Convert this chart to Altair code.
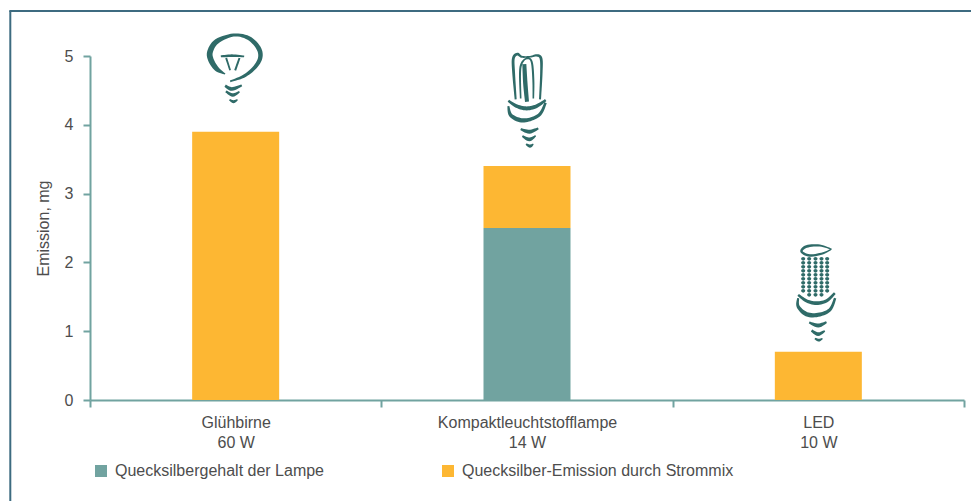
import math
import altair as alt
import pandas as pd

lamps = ["Glühbirne|60 W", "Kompaktleuchtstofflampe|14 W", "LED|10 W"]
series = ["Quecksilbergehalt der Lampe", "Quecksilber-Emission durch Strommix"]
content_values = [0.0, 2.5, 0.0]
power_mix_values = [3.9, 0.9, 0.7]
y_ticks = [0, 1, 2, 3, 4, 5]
TEAL = "#71a3a0"
ORANGE = "#fdb733"
DARK = "#2f6b68"
FRAME = "#3d6b80"
TEXT = "#4d4d4d"
FONT = "Liberation Sans"


def smooth(pts, n=7):
    out = []
    m = len(pts)
    for i in range(m - 1):
        p0, p1, p2, p3 = pts[max(i - 1, 0)], pts[i], pts[i + 1], pts[min(i + 2, m - 1)]
        for k in range(n):
            t = k / n
            out.append(tuple(
                0.5 * (2 * b + (c - a) * t + (2 * a - 5 * b + 4 * c - d) * t * t + (3 * b - a - 3 * c + d) * t ** 3)
                for a, b, c, d in zip(p0, p1, p2, p3)
            ))
    out.append(pts[-1])
    return out


def polygon(points):
    area = sum(points[i][0] * points[(i + 1) % len(points)][1] - points[(i + 1) % len(points)][0] * points[i][1]
               for i in range(len(points)))
    if area < 0:
        points = points[::-1]
    return "M" + "L".join(f"{x:.2f} {y:.2f}" for x, y in points) + "Z"


def brush(pts, ox, oy, weight=1.2):
    s = smooth(pts)
    left, right = [], []
    for i, (x, y, w) in enumerate(s):
        w = w * weight
        ax, ay, _ = s[max(i - 1, 0)]
        bx, by, _ = s[min(i + 1, len(s) - 1)]
        dx, dy = bx - ax, by - ay
        d = math.hypot(dx, dy) or 1
        nx, ny = -dy / d, dx / d
        left.append(((x + nx * w / 2 - ox) / 3, (y + ny * w / 2 - oy) / 3))
        right.append(((x - nx * w / 2 - ox) / 3, (y - ny * w / 2 - oy) / 3))
    return polygon(left + right[::-1])


def dot(x, y, ox, oy, r=6.4):
    return polygon([((x + r * math.cos(a * math.pi / 4) - ox) / 3, (y + r * 0.85 * math.sin(a * math.pi / 4) - oy) / 3)
                    for a in range(8)])


bulb_strokes = [
    [(135, 163, 3), (110, 148, 14), (92, 120, 17), (90, 95, 17), (110, 65, 15), (160, 46, 9), (205, 55, 12),
     (235, 85, 14), (240, 115, 13), (222, 145, 11), (190, 170, 9), (150, 185, 5)],
    [(122, 110, 6), (155, 108, 8), (192, 110, 5)],
    [(138, 115, 6), (150, 152, 5)],
    [(178, 115, 6), (165, 152, 6)],
    [(135, 198, 8), (155, 208, 11), (185, 197, 6)],
    [(137, 215, 6), (158, 226, 10), (178, 216, 5)],
    [(148, 240, 5), (160, 246, 9), (172, 240, 4)],
]
cfl_strokes = [
    [(107, 178, 5), (101, 100, 7), (100, 55, 7), (112, 42, 7), (125, 50, 5), (150, 50, 4), (170, 46, 6), (183, 55, 7),
     (184, 100, 6), (180, 178, 5)],
    [(122, 175, 4), (120, 100, 5), (125, 70, 5), (140, 55, 4), (155, 65, 5), (160, 120, 5), (160, 175, 4)],
    [(133, 72, 10), (136, 130, 11), (141, 185, 10)],
    [(85, 182, 6), (110, 198, 9), (140, 205, 10), (170, 198, 9), (197, 180, 6)],
    [(85, 198, 5), (92, 225, 9), (120, 240, 11), (150, 238, 9), (180, 222, 8), (197, 188, 6)],
    [(122, 267, 5), (148, 275, 10), (175, 265, 5)],
    [(127, 288, 5), (148, 298, 9), (167, 287, 4)],
    [(138, 312, 4), (150, 318, 8), (160, 312, 3)],
]
led_strokes = [
    [(185, 43, 3), (150, 32, 5), (110, 35, 7), (95, 50, 6), (120, 62, 6), (160, 55, 5), (185, 43, 3)],
    [(85, 180, 6), (110, 198, 8), (140, 205, 9), (170, 198, 8), (195, 175, 6)],
    [(85, 190, 5), (85, 215, 8), (110, 238, 11), (145, 240, 10), (180, 225, 8), (196, 190, 6)],
    [(118, 263, 5), (145, 272, 10), (170, 262, 5)],
    [(125, 287, 6), (145, 298, 9), (165, 288, 4)],
    [(135, 311, 4), (147, 316, 7), (158, 311, 3)],
]
led_columns = [(100, 72, 168), (118, 72, 180), (137, 72, 186), (155, 72, 180), (172, 72, 168)]

bulb_path = "".join(brush(s, 166.5, 336, 1.0) for s in bulb_strokes)
cfl_path = "".join(brush(s, 141, 378) for s in cfl_strokes)
led_path = "".join(brush(s, 145.5, 351) for s in led_strokes)
for cx, y0, y1 in led_columns:
    y = y0
    while y <= y1:
        led_path += dot(cx, y, 145.5, 351)
        y += 12

rows = []
for lamp, a, b in zip(lamps, content_values, power_mix_values):
    rows.append({"lamp": lamp, "series": series[0], "value": a, "rank": 0})
    rows.append({"lamp": lamp, "series": series[1], "value": b, "rank": 1})
bars_df = pd.DataFrame(rows)
tops_df = pd.DataFrame({"lamp": lamps, "total": [a + b for a, b in zip(content_values, power_mix_values)]})

x_enc = alt.X(
    "lamp:N", sort=lamps, title=None,
    scale=alt.Scale(paddingInner=0, paddingOuter=0),
    axis=alt.Axis(
        labelAngle=0, labelExpr="split(datum.label, '|')", tickBand="extent", tickSize=7,
        labelPadding=7, labelLineHeight=20, labelFontSize=16,
    ),
)

bars = alt.Chart(bars_df).mark_bar(size=87).encode(
    x=x_enc,
    y=alt.Y(
        "value:Q", stack="zero", title="Emission, mg",
        scale=alt.Scale(domain=[0, 5], nice=False),
        axis=alt.Axis(values=y_ticks, format="d", tickSize=7, labelPadding=10, labelFontSize=16,
                      titleFontSize=16, titleFontWeight="normal", titlePadding=13),
    ),
    color=alt.Color(
        "series:N",
        scale=alt.Scale(domain=series, range=[TEAL, ORANGE]),
        legend=alt.Legend(
            title=None, orient="none", legendX=3, legendY=407, columns=2, columnPadding=115,
            symbolType="square", symbolSize=144, symbolStrokeWidth=0, labelOffset=6,
            labelFontSize=16, labelLimit=400, labelColor=TEXT, labelFont=FONT,
        ),
    ),
    order=alt.Order("rank:Q"),
)

icons = alt.Chart(tops_df).mark_point(filled=True, opacity=1, size=4, color=DARK, strokeWidth=0).encode(
    x=alt.X("lamp:N", sort=lamps),
    y=alt.Y("total:Q"),
    shape=alt.Shape("lamp:N", scale=alt.Scale(domain=lamps, range=[bulb_path, cfl_path, led_path]), legend=None),
)

frame_top = alt.Chart().mark_rule(color=FRAME, strokeWidth=2).encode(
    x=alt.value(-80.7), x2=alt.value(881), y=alt.value(-45)
)
frame_left = alt.Chart().mark_rule(color=FRAME, strokeWidth=2).encode(
    x=alt.value(-79.7), y=alt.value(-45), y2=alt.value(445)
)

chart = (
    alt.layer(frame_top, frame_left, bars, icons)
    .properties(
        width=874, height=344,
        padding={"left": 82, "top": 48, "right": 7, "bottom": 101},
        autosize=alt.AutoSizeParams(type="none"),
    )
    .configure_view(stroke=None)
    .configure_axis(
        grid=False, domainColor=TEAL, tickColor=TEAL, domainWidth=2, tickWidth=2,
        labelColor=TEXT, titleColor=TEXT, labelFont=FONT, titleFont=FONT,
    )
)

chart.save("out.html", embed_options={"renderer": "svg", "actions": False})
